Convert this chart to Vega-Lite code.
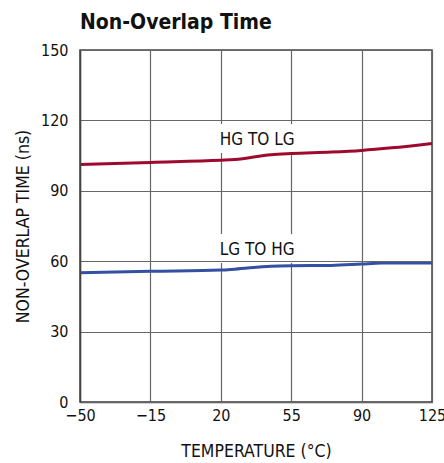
{
  "$schema": "https://vega.github.io/schema/vega-lite/v6.json",
  "width": 352,
  "height": 352,
  "autosize": {"type": "none"},
  "padding": {"left": 80, "top": 50, "right": 12, "bottom": 61},
  "background": "white",
  "title": {
    "text": "Non-Overlap Time",
    "anchor": "start",
    "frame": "group",
    "font": "DejaVu Sans Condensed, sans-serif",
    "fontSize": 21,
    "fontWeight": "bold",
    "color": "#111111",
    "offset": 9
  },
  "config": {
    "view": {"stroke": "#444444", "strokeWidth": 1.5},
    "axis": {
      "labelFont": "DejaVu Sans Condensed, sans-serif",
      "titleFont": "DejaVu Sans Condensed, sans-serif",
      "labelFontSize": 16,
      "titleFontSize": 17.5,
      "titleFontWeight": "normal",
      "labelColor": "#111111",
      "titleColor": "#111111",
      "gridColor": "#666666",
      "gridWidth": 1.2,
      "gridOpacity": 1,
      "domainColor": "#444444",
      "domainWidth": 1.5,
      "ticks": false
    }
  },
  "datasets": {
    "curves": [
      {"t": -50, "v": 101.2, "series": "HG TO LG"},
      {"t": -15, "v": 102.1, "series": "HG TO LG"},
      {"t": 20, "v": 103.0, "series": "HG TO LG"},
      {"t": 27, "v": 103.3, "series": "HG TO LG"},
      {"t": 45, "v": 105.4, "series": "HG TO LG"},
      {"t": 55, "v": 105.9, "series": "HG TO LG"},
      {"t": 75, "v": 106.5, "series": "HG TO LG"},
      {"t": 90, "v": 107.2, "series": "HG TO LG"},
      {"t": 105, "v": 108.3, "series": "HG TO LG"},
      {"t": 125, "v": 110.2, "series": "HG TO LG"},
      {"t": -50, "v": 55.1, "series": "LG TO HG"},
      {"t": -15, "v": 55.7, "series": "LG TO HG"},
      {"t": 20, "v": 56.2, "series": "LG TO HG"},
      {"t": 27, "v": 56.6, "series": "LG TO HG"},
      {"t": 45, "v": 57.9, "series": "LG TO HG"},
      {"t": 55, "v": 58.1, "series": "LG TO HG"},
      {"t": 75, "v": 58.2, "series": "LG TO HG"},
      {"t": 90, "v": 58.8, "series": "LG TO HG"},
      {"t": 100, "v": 59.2, "series": "LG TO HG"},
      {"t": 125, "v": 59.2, "series": "LG TO HG"}
    ],
    "labels": [
      {"t": 20, "v": 109.5, "label": "HG TO LG"},
      {"t": 20, "v": 62.6, "label": "LG TO HG"}
    ]
  },
  "layer": [
    {
      "data": {"name": "labels"},
      "mark": {
        "type": "text",
        "align": "left",
        "baseline": "alphabetic",
        "dx": -1,
        "font": "DejaVu Sans Condensed, sans-serif",
        "fontSize": 17,
        "fill": "white",
        "stroke": "white",
        "strokeWidth": 16,
        "strokeJoin": "round"
      },
      "encoding": {
        "x": {
          "field": "t",
          "type": "quantitative",
          "scale": {"domain": [-50, 125], "nice": false, "zero": false},
          "axis": {
            "values": [-50, -15, 20, 55, 90, 125],
            "title": "TEMPERATURE (°C)",
            "labelPadding": 5,
            "labelFlush": false,
            "titlePadding": 19,
            "grid": true
          }
        },
        "y": {
          "field": "v",
          "type": "quantitative",
          "scale": {"domain": [0, 150], "nice": false},
          "axis": {
            "values": [0, 30, 60, 90, 120, 150],
            "title": "NON-OVERLAP TIME (ns)",
            "labelPadding": 12,
            "labelFlush": false,
            "titlePadding": 8,
            "grid": true,
            "zindex": 1
          }
        },
        "text": {"field": "label"}
      }
    },
    {
      "data": {"name": "curves"},
      "mark": {"type": "line", "strokeWidth": 3, "interpolate": "monotone"},
      "encoding": {
        "x": {"field": "t", "type": "quantitative"},
        "y": {"field": "v", "type": "quantitative"},
        "color": {
          "field": "series",
          "type": "nominal",
          "scale": {"domain": ["HG TO LG", "LG TO HG"], "range": ["#9E0A2E", "#3350A3"]},
          "legend": null
        }
      }
    },
    {
      "data": {"name": "labels"},
      "mark": {
        "type": "text",
        "align": "left",
        "baseline": "alphabetic",
        "dx": -1,
        "font": "DejaVu Sans Condensed, sans-serif",
        "fontSize": 17,
        "fill": "#111111"
      },
      "encoding": {
        "x": {"field": "t", "type": "quantitative"},
        "y": {"field": "v", "type": "quantitative"},
        "text": {"field": "label"}
      }
    }
  ]
}
